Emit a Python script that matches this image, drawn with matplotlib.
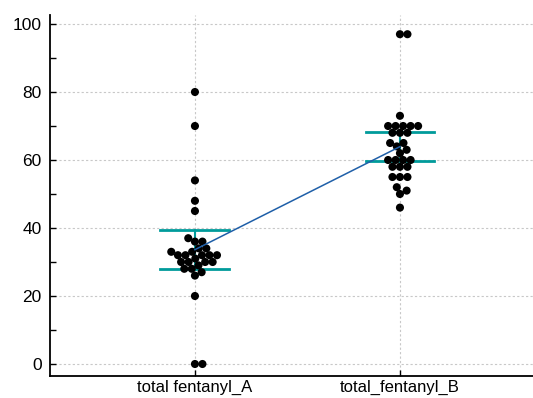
import numpy as np
import matplotlib
matplotlib.use("Agg")
import matplotlib.pyplot as plt

# values
categories = ["total fentanyl_A", "total_fentanyl_B"]
group_a = [0, 0, 20, 26, 27, 28, 28, 29, 30, 30, 30, 30, 31, 32, 32, 32, 32, 32,
           33, 33, 34, 34, 36, 36, 37, 45, 48, 54, 70, 80]
group_b = [46, 50, 51, 52, 55, 55, 55, 58, 58, 58, 60, 60, 60, 60, 62, 63, 64,
           65, 65, 68, 68, 68, 70, 70, 70, 70, 70, 73, 97, 97]
y_ticks = [0, 20, 40, 60, 80, 100]

T_CRIT = 2.045  # t(0.975, df=29) for the 95% CI of the mean

plt.rcParams["font.family"] = ["Liberation Sans", "DejaVu Sans"]

fig = plt.figure(figsize=(5.33, 3.98), dpi=100)
W, H = 533, 398
ax = fig.add_axes([50 / W, 1 - 376 / H, 1 - 50 / W, (376 - 15) / H])

x_min, x_max = -0.707, 1.649
y_min, y_max = -3.53, 102.65
ax.set_xlim(x_min, x_max)
ax.set_ylim(y_min, y_max)

# pixels per data unit, used to lay out the swarm
px_x = (W - 50) / (x_max - x_min)
px_y = (376 - 15) / (y_max - y_min)
dot = 7.5  # dot spacing in pixels


def swarm(values):
    # simple beeswarm: place each point as close to the centre as possible
    placed = []
    offsets = []
    for v in values:
        y = v * px_y
        cands = [0.0]
        for (px, py) in placed:
            dy = abs(py - y)
            if dy < dot:
                dx = np.sqrt(dot ** 2 - dy ** 2)
                cands += [px + dx, px - dx]
        cands.sort(key=lambda c: (abs(c), -c))
        for c in cands:
            if all((c - px) ** 2 + (y - py) ** 2 >= dot ** 2 - 1e-6 for (px, py) in placed):
                placed.append((c, y))
                offsets.append(c / px_x)
                break
    return np.array(offsets)


means = []
for i, vals in enumerate([group_a, group_b]):
    vals = np.sort(np.array(vals, dtype=float))
    m = vals.mean()
    half = T_CRIT * vals.std(ddof=1) / np.sqrt(len(vals))
    means.append(m)

    # 95% CI of the mean
    ax.plot([i - 0.168, i + 0.168], [m + half, m + half], color="#009b9b", lw=2, zorder=2)
    ax.plot([i - 0.168, i + 0.168], [m - half, m - half], color="#009b9b", lw=2, zorder=2)
    ax.plot([i, i], [m - half, m + half], color="#009b9b", lw=1.5, zorder=2)

    off = swarm(vals)
    ax.scatter(i + off, vals, s=34, color="black", edgecolors="none", zorder=3)

# line joining the means
ax.plot([0, 1], means, color="#1f5fa8", lw=1.1, zorder=4)

ax.set_xticks([0, 1])
ax.set_xticklabels(categories, fontsize=12)
ax.set_yticks(y_ticks)
ax.set_yticks(np.arange(10, 100, 20), minor=True)
ax.tick_params(axis="y", labelsize=12.5, pad=6)
ax.tick_params(axis="x", pad=3)
ax.tick_params(which="both", direction="in", length=4, width=1)

ax.grid(True, which="major", color="#c8c8c8", linestyle=(0, (2, 2)), linewidth=0.8)
ax.set_axisbelow(True)

for side in ["top", "right"]:
    ax.spines[side].set_visible(False)
for side in ["left", "bottom"]:
    ax.spines[side].set_linewidth(1.3)

plt.savefig("out.png", dpi=100)
